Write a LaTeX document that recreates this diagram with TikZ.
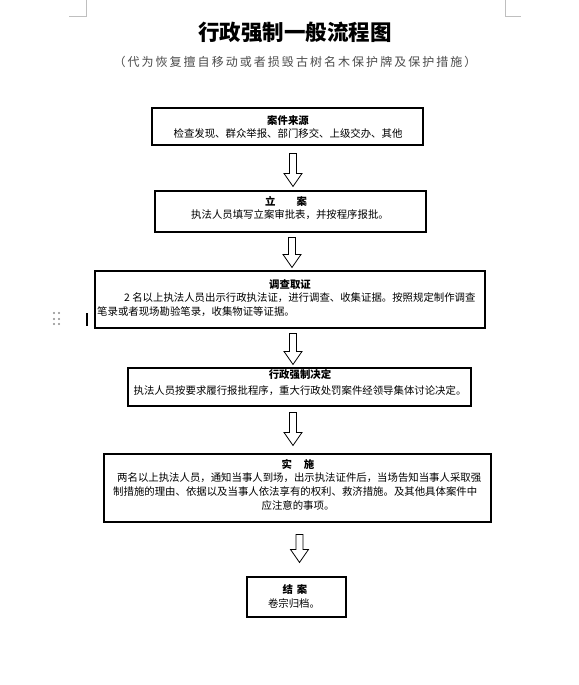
\documentclass[tikz,border=0pt]{standalone}
\usepackage{fontspec}
\setmainfont{Noto Sans CJK SC}
\usetikzlibrary{calc}
\tikzset{
  box/.style={draw=black, line width=1.1pt, inner sep=0pt, fill=white},
  ttl/.style={font=\fontsize{10.4}{12}\selectfont\bfseries, inner sep=0pt},
  body/.style={font=\fontsize{10.4}{12}\selectfont, inner sep=0pt},
  harrow/.style={draw=black, line width=0.8pt, fill=white, line join=miter},
  ui/.style={draw=black!25, line width=0.8pt}
}
\newcommand\hollowdown[3]{%
  \draw[harrow] ($(#1)+(-#3,0)$) -- ($(#2)+(-#3,-13)$) -- ($(#2)+(-9,-13)$) -- (#2)
    -- ($(#2)+(9,-13)$) -- ($(#2)+(#3,-13)$) -- ($(#1)+(#3,0)$) -- cycle;}
\begin{document}
\begin{tikzpicture}[x=1pt,y=-1pt]
\useasboundingbox (0,0) rectangle (578,685);
\fill[white] (0,0) rectangle (578,685);

% UI marks
\draw[ui] (86,0) -- (86,16) -- (69,16);
\draw[ui] (505,0) -- (505,16) -- (521,16);
\foreach \dx in {54,59} \foreach \dy in {313,319,324} \fill[black!45] (\dx,\dy) circle (1.1);
\draw[line width=1.7pt] (87,313) -- (87,326);

% title
\node[inner sep=0pt, font=\fontsize{21.5}{24}\selectfont\bfseries] (title) at (295,32) {行政强制一般流程图};
\node[inner sep=0pt, text=black!70, font=\addfontfeatures{LetterSpace=17}\fontsize{12}{14}\selectfont] (sub) at (295,62) {（代为恢复擅自移动或者损毁古树名木保护牌及保护措施）};

% boxes
\node[box, minimum width=271, minimum height=37] (b1) at (287.5,126.5) {};
\node[box, minimum width=271, minimum height=41] (b2) at (290.5,211.5) {};
\node[box, minimum width=390, minimum height=57] (b3) at (290,299.5) {};
\node[box, minimum width=343, minimum height=38] (b4) at (299.5,387) {};
\node[box, minimum width=387, minimum height=68] (b5) at (297.5,488) {};
\node[box, minimum width=99, minimum height=40] (b6) at (296.5,597) {};

% texts
\node[ttl] (h1) at (288,121) {案件来源};
\node[body] (t1) at (288,134) {检查发现、群众举报、部门移交、上级交办、其他};

\node[ttl] (h2) at (286,201) {立\hspace{21pt}案};
\node[body] (t2) at (290,215) {执法人员填写立案审批表，并按程序报批。};

\node[ttl] (h3) at (290,285) {调查取证};
\node[body, anchor=west] (t3a) at (124,298) {2 名以上执法人员出示行政执法证，进行调查、收集证据。按照规定制作调查};
\node[body, anchor=west] (t3b) at (97,312) {笔录或者现场勘验笔录，收集物证等证据。};

\node[ttl] (h4) at (300,375) {行政强制决定};
\node[body] (t4) at (300,391) {执法人员按要求履行报批程序，重大行政处罚案件经领导集体讨论决定。};

\node[ttl] (h5) at (298,464) {实\hspace{12pt}施};
\node[body, anchor=west] (t5a) at (117,478) {两名以上执法人员，通知当事人到场，出示执法证件后，当场告知当事人采取强};
\node[body, anchor=west] (t5b) at (113,492) {制措施的理由、依据以及当事人依法享有的权利、救济措施。及其他具体案件中};
\node[body] (t5c) at (298,506) {应注意的事项。};

\node[ttl] (h6) at (295,589) {结\hspace{4pt}案};
\node[body] (t6) at (294,603) {卷宗归档。};

% arrows
\coordinate (x1) at (293,0);
\coordinate (x2) at (292,0);
\coordinate (x3) at (293,0);
\coordinate (x4) at (293,0);
\coordinate (x5) at (299.5,0);
\coordinate (a1t) at ($(b1.south -| x1)+(0,8)$);
\coordinate (a1h) at ($(b2.north -| x1)+(0,-4)$);
\coordinate (a2t) at ($(b2.south -| x2)+(0,5)$);
\coordinate (a2h) at ($(b3.north -| x2)+(0,-3)$);
\coordinate (a3t) at ($(b3.south -| x3)+(0,5)$);
\coordinate (a3h) at ($(b4.north -| x3)+(0,-3)$);
\coordinate (a4t) at ($(b4.south -| x4)+(0,6)$);
\coordinate (a4h) at ($(b5.north -| x4)+(0,-8)$);
\coordinate (a5t) at ($(b5.south -| x5)+(0,12)$);
\coordinate (a5h) at ($(b6.north -| x5)+(0,-14)$);
\hollowdown{a1t}{a1h}{3.5}
\hollowdown{a2t}{a2h}{3.5}
\hollowdown{a3t}{a3h}{3.5}
\hollowdown{a4t}{a4h}{3.5}
\hollowdown{a5t}{a5h}{3.5}
\end{tikzpicture}
\end{document}
